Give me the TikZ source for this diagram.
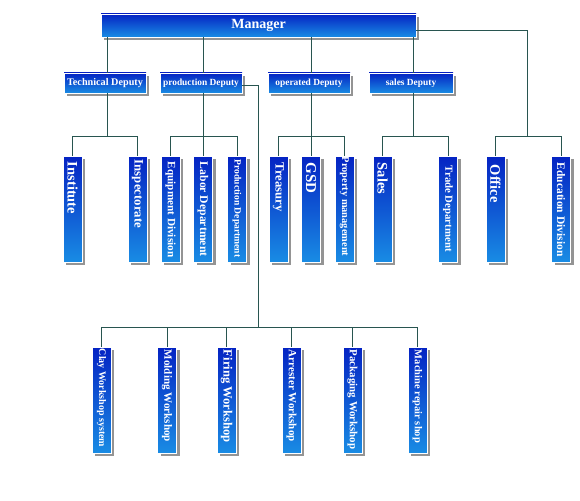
\documentclass[tikz,border=0pt]{standalone}
\usepackage{fontspec}
\setmainfont{Liberation Serif}
\usetikzlibrary{shadows}
\definecolor{boxtop}{RGB}{5,35,195}
\definecolor{boxbot}{RGB}{25,140,228}
\definecolor{linec}{RGB}{40,85,80}
\newcommand{\fsz}[1]{\fontsize{#1}{#1}\selectfont\bfseries}
\tikzset{
 box/.style={rectangle, draw=white, line width=0.7pt, top color=boxtop, bottom color=boxbot, inner sep=0pt,
   drop shadow={shadow xshift=3pt, shadow yshift=-3pt, fill=black!42, opacity=1}},
 hbox/.style={box, minimum width=82pt, minimum height=20pt, text=white},
 vbox/.style={box, minimum width=19pt, minimum height=106pt},
 vlbl/.style={text=white, inner sep=0pt, rotate=-90, anchor=west},
 conn/.style={draw=linec, line width=0.8pt},
}
\begin{document}
\begin{tikzpicture}[x=1pt,y=-1pt]
\fill[white] (0,0) rectangle (580,500);
\useasboundingbox (0,0) rectangle (580,500);
% manager
\node[box, minimum width=315pt, minimum height=23pt, text=white, font=\fsz{14}] (mgr) at (258.5,25.5) {Manager};
% deputies
\node[hbox, font=\fsz{10.2}] (tech) at (105,83) {Technical Deputy};
\node[hbox, font=\fsz{9.4}] (prod) at (201,83) {production Deputy};
\node[hbox, font=\fsz{9.4}] (op) at (309,83) {operated Deputy};
\node[hbox, font=\fsz{9.4}, minimum width=84pt] (sd) at (411,83) {sales Deputy};
% level 3 boxes
\node[vbox] (inst) at (72.5,209) {};
\node[vbox] (insp) at (137.5,209) {};
\node[vbox] (equip) at (170.5,209) {};
\node[vbox] (labor) at (203,209) {};
\node[vbox] (pdept) at (237,209) {};
\node[vbox] (treas) at (278.5,209) {};
\node[vbox] (gsd) at (311,209) {};
\node[vbox] (prop) at (344.5,209) {};
\node[vbox] (sal) at (382.5,209) {};
\node[vbox] (trade) at (448,209) {};
\node[vbox] (office) at (495.5,209) {};
\node[vbox] (edu) at (561,209) {};
% level 3 labels
\node[vlbl, font=\fsz{14.5}] (tinst) at ([yshift=-6pt]inst.north) {Institute};
\node[vlbl, font=\fsz{12.8}] (tinsp) at ([yshift=-4pt]insp.north) {Inspectorate};
\node[vlbl, font=\fsz{11.2}] (tequip) at ([yshift=-6pt]equip.north) {Equipment Division};
\node[vlbl, font=\fsz{11.7}] (tlabor) at ([yshift=-6pt]labor.north) {Labor Department};
\node[vlbl, font=\fsz{9.6}] (tpdept) at ([yshift=-4pt]pdept.north) {Production Department};
\node[vlbl, font=\fsz{12.7}] (ttreas) at ([yshift=-7pt]treas.north) {Treasury};
\node[vlbl, font=\fsz{15}] (tgsd) at ([yshift=-7pt]gsd.north) {GSD};
\node[vlbl, font=\fsz{10.4}] (tprop) at ([yshift=-1pt]prop.north) {Property management};
\node[vlbl, font=\fsz{14.5}] (tsal) at ([yshift=-7pt]sal.north) {Sales};
\node[vlbl, font=\fsz{10.8}] (ttrade) at ([yshift=-10pt]trade.north) {Trade Department};
\node[vlbl, font=\fsz{14.5}] (toffice) at ([yshift=-9pt]office.north) {Office};
\node[vlbl, font=\fsz{11.5}] (tedu) at ([yshift=-7pt]edu.north) {Education Division};
% workshops
\node[vbox] (clay) at (101.5,400) {};
\node[vbox] (mold) at (167,400) {};
\node[vbox] (fire) at (226.5,400) {};
\node[vbox] (arr) at (291.5,400) {};
\node[vbox] (pack) at (352.5,400) {};
\node[vbox] (mach) at (417.5,400) {};
\node[vlbl, font=\fsz{10}] (tclay) at ([yshift=-2pt]clay.north) {Clay Workshop system};
\node[vlbl, font=\fsz{11.1}] (tmold) at ([yshift=-3pt]mold.north) {Molding Workshop};
\node[vlbl, font=\fsz{12.6}] (tfire) at ([yshift=-3pt]fire.north) {Firing Workshop};
\node[vlbl, font=\fsz{11}] (tarr) at ([yshift=-3pt]arr.north) {Arrester Workshop};
\node[vlbl, font=\fsz{10.9}] (tpack) at ([yshift=-3pt]pack.north) {Packaging Workshop};
\node[vlbl, font=\fsz{10.5}] (tmach) at ([yshift=-3pt]mach.north) {Machine repair shop};
% connectors manager -> deputies
\draw[conn] ([xshift=2pt]tech.north) -- ([xshift=2pt]tech.north |- mgr.south);
\draw[conn] ([xshift=2pt]prod.north) -- ([xshift=2pt]prod.north |- mgr.south);
\draw[conn] ([xshift=2pt]op.north) -- ([xshift=2pt]op.north |- mgr.south);
\draw[conn] ([xshift=2pt]sd.north) -- ([xshift=2pt]sd.north |- mgr.south);
% manager -> office group
\coordinate (busE) at (527,137);
\draw[conn] ([yshift=-4.5pt]mgr.east) -| (busE);
\draw[conn] (office.north) -- ++(0,-19) -| (edu.north);
% technical
\draw[conn] (inst.north) -- ++(0,-19) -| (insp.north);
\draw[conn] ([xshift=2pt]tech.south) -- ++(0,44);
% production
\draw[conn] (equip.north) -- ++(0,-19) -| (pdept.north);
\draw[conn] ([xshift=2pt]prod.south) -- (labor.north);
% operated
\draw[conn] (treas.north) -- ++(0,-19) -| (prop.north);
\draw[conn] ([xshift=2pt]op.south) -- (gsd.north);
% sales
\draw[conn] (sal.north) -- ++(0,-19) -| (trade.north);
\draw[conn] ([xshift=2pt]sd.south) -- ++(0,44);
% production -> workshops
\coordinate (busW) at (258,328);
\draw[conn] ([yshift=-2pt]prod.east) -| (busW);
\draw[conn] (clay.north) -- ++(0,-19) -| (mach.north);
\draw[conn] (mold.north) -- ++(0,-19);
\draw[conn] (fire.north) -- ++(0,-19);
\draw[conn] (arr.north) -- ++(0,-19);
\draw[conn] (pack.north) -- ++(0,-19);
\end{tikzpicture}
\end{document}
